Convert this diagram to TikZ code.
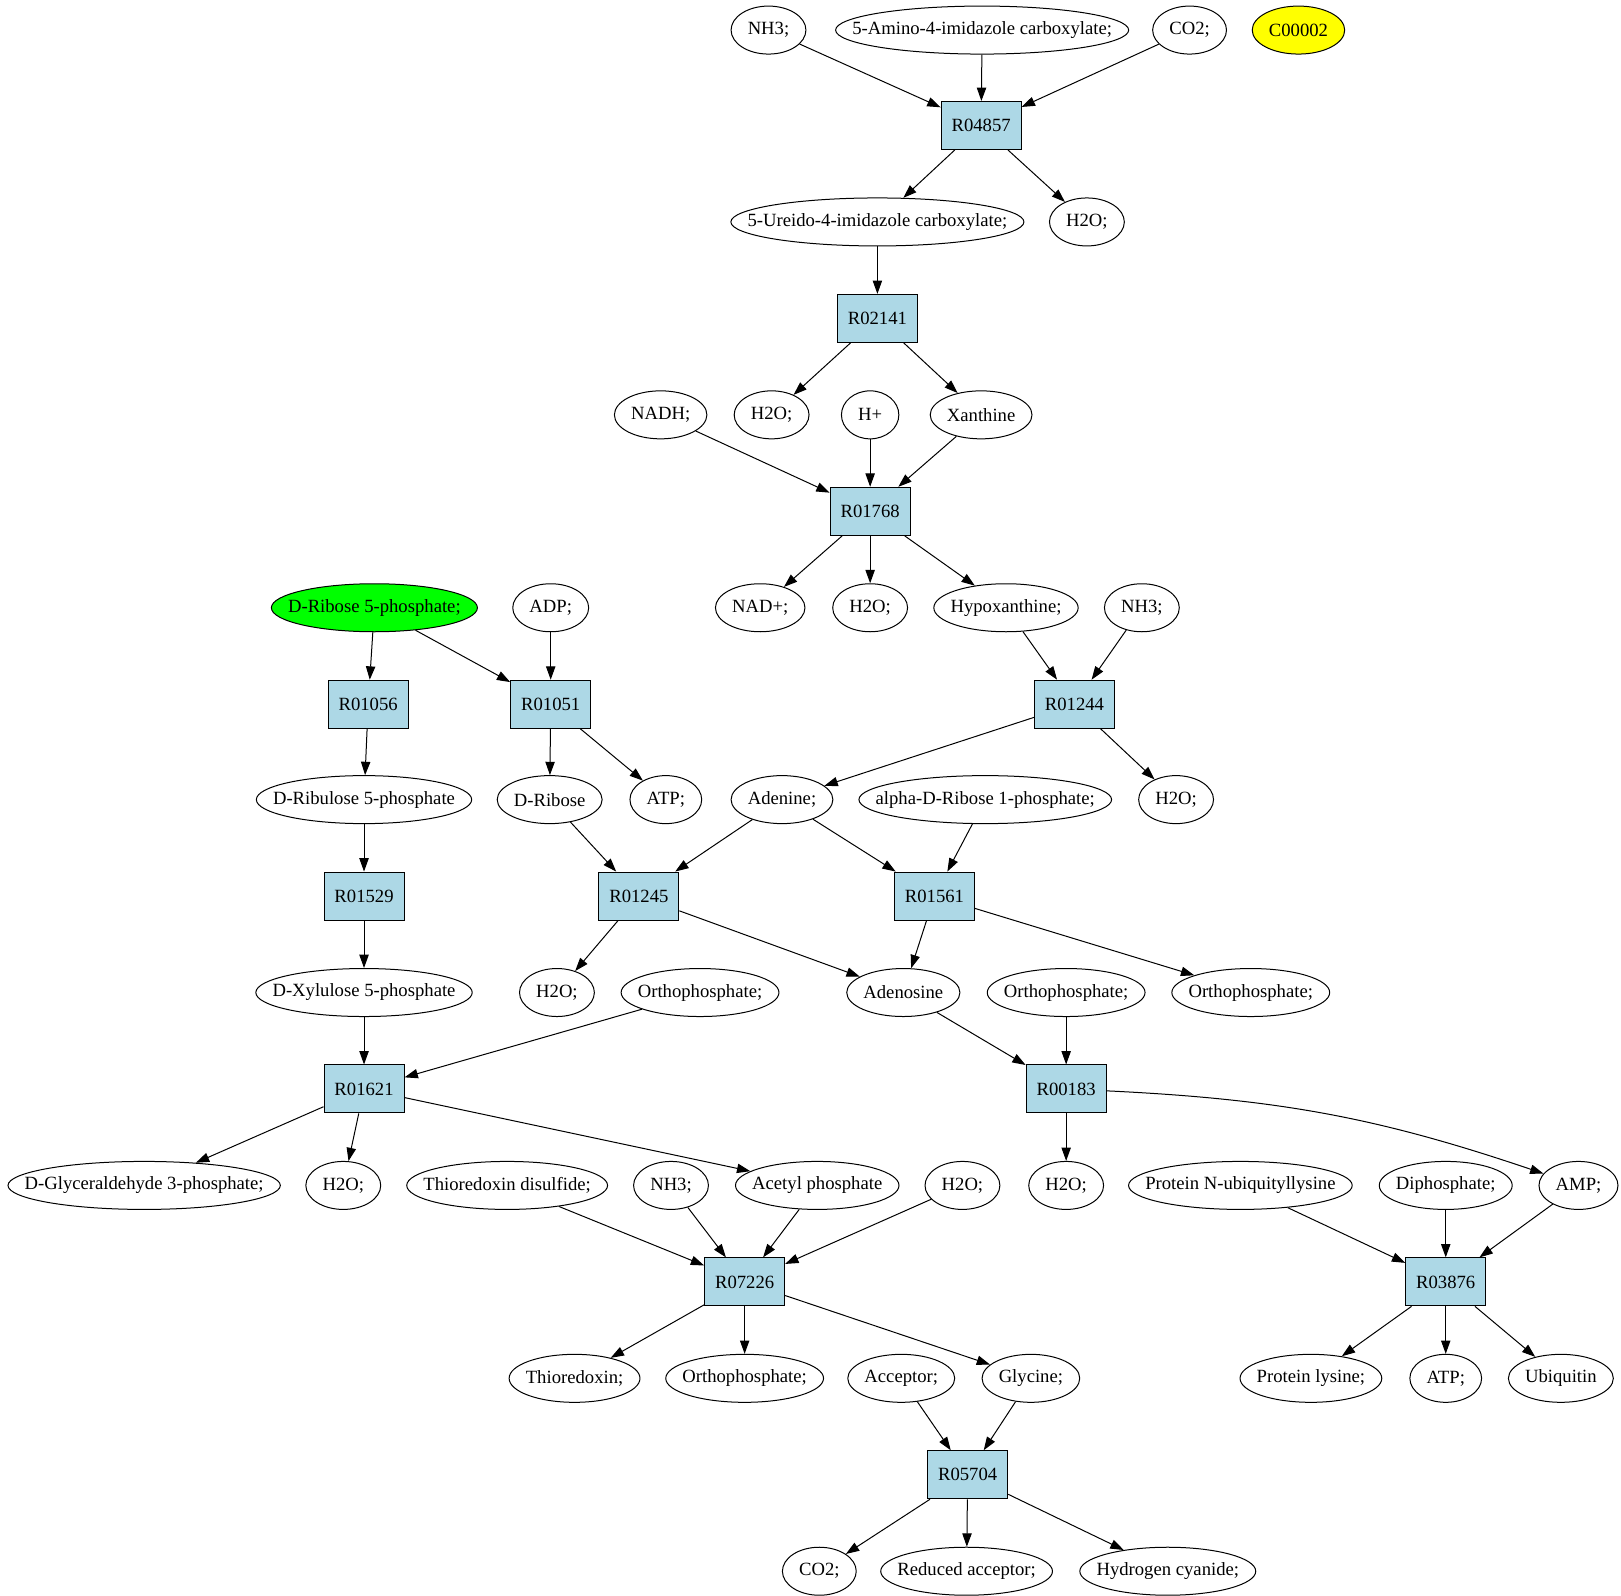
\documentclass[tikz,border=0pt]{standalone}
\usepackage{fontspec}
\setmainfont{Liberation Serif}
\usetikzlibrary{shapes.geometric,arrows.meta}
\definecolor{reaction}{RGB}{173,216,230}
\definecolor{source}{RGB}{0,255,0}
\definecolor{target}{RGB}{255,255,0}
\newcommand{\fitbox}[1]{\makebox[\dimexpr0.7071\width+17.7pt\relax]{#1}}
\tikzstyle{cpd}=[ellipse, draw, line width=.75pt, minimum height=36pt, inner xsep=0pt, inner ysep=0pt, font=\fontsize{14}{17}\selectfont]
\tikzstyle{rxn}=[rectangle, draw, line width=.75pt, fill=reaction, minimum width=60pt, minimum height=36pt, font=\fontsize{14}{17}\selectfont]
\tikzstyle{edge}=[-{Triangle[length=10pt,width=7pt]}, line width=.75pt]

\begin{document}
\begin{tikzpicture}[x=0.7778pt, y=-0.7778pt]
  \useasboundingbox (0,0) rectangle (1563,1538);
  \draw (741,29) node[cpd] (nh3a) {\fitbox{NH3;}};
  \draw (947,29) node[cpd] (aica) {\fitbox{5-Amino-4-imidazole carboxylate;}};
  \draw (1147,29) node[cpd] (co2a) {\fitbox{CO2;}};
  \draw (1252,29) node[cpd,fill=target] (cmark) {\fitbox{C00002}};

  \draw (946,121) node[rxn] (R04857) {R04857};
  \draw (846,214) node[cpd] (uica) {\fitbox{5-Ureido-4-imidazole carboxylate;}};
  \draw (1048,214) node[cpd] (h2oa) {\fitbox{H2O;}};

  \draw (846,307) node[rxn] (R02141) {R02141};
  \draw (637,400) node[cpd] (nadh) {\fitbox{NADH;}};
  \draw (744,400) node[cpd] (h2ob) {\fitbox{H2O;}};
  \draw (839,400) node[cpd] (hplus) {\fitbox{H+}};
  \draw (946,400) node[cpd] (xan) {\fitbox{Xanthine}};

  \draw (839,493) node[rxn] (R01768) {R01768};
  \draw (361,586) node[cpd,fill=source] (r5p) {\fitbox{D-Ribose 5-phosphate;}};
  \draw (531,586) node[cpd] (adp) {\fitbox{ADP;}};
  \draw (733,586) node[cpd] (nad) {\fitbox{NAD+;}};
  \draw (839,586) node[cpd] (h2oc) {\fitbox{H2O;}};
  \draw (970,586) node[cpd] (hyp) {\fitbox{Hypoxanthine;}};
  \draw (1101,586) node[cpd] (nh3b) {\fitbox{NH3;}};

  \draw (355,679) node[rxn] (R01056) {R01056};
  \draw (531,679) node[rxn] (R01051) {R01051};
  \draw (1036,679) node[rxn] (R01244) {R01244};

  \draw (351,771) node[cpd] (ru5p) {\fitbox{D-Ribulose 5-phosphate}};
  \draw (530,771) node[cpd] (rib) {\fitbox{D-Ribose}};
  \draw (642,771) node[cpd] (atpa) {\fitbox{ATP;}};
  \draw (754,771) node[cpd] (ade) {\fitbox{Adenine;}};
  \draw (950,771) node[cpd] (a1p) {\fitbox{alpha-D-Ribose 1-phosphate;}};
  \draw (1134,771) node[cpd] (h2od) {\fitbox{H2O;}};

  \draw (351,864) node[rxn] (R01529) {R01529};
  \draw (616,864) node[rxn] (R01245) {R01245};
  \draw (901,864) node[rxn] (R01561) {R01561};

  \draw (351,957) node[cpd] (xu5p) {\fitbox{D-Xylulose 5-phosphate}};
  \draw (537,957) node[cpd] (h2oe) {\fitbox{H2O;}};
  \draw (675,957) node[cpd] (pia) {\fitbox{Orthophosphate;}};
  \draw (871,957) node[cpd] (ado) {\fitbox{Adenosine}};
  \draw (1028,957) node[cpd] (pib) {\fitbox{Orthophosphate;}};
  \draw (1206,957) node[cpd] (pic) {\fitbox{Orthophosphate;}};

  \draw (351,1050) node[rxn] (R01621) {R01621};
  \draw (1028,1050) node[rxn] (R00183) {R00183};

  \draw (139,1143) node[cpd] (gap) {\fitbox{D-Glyceraldehyde 3-phosphate;}};
  \draw (331,1143) node[cpd] (h2of) {\fitbox{H2O;}};
  \draw (489,1143) node[cpd] (trxd) {\fitbox{Thioredoxin disulfide;}};
  \draw (647,1143) node[cpd] (nh3c) {\fitbox{NH3;}};
  \draw (788,1143) node[cpd] (acp) {\fitbox{Acetyl phosphate}};
  \draw (928,1143) node[cpd] (h2og) {\fitbox{H2O;}};
  \draw (1028,1143) node[cpd] (h2oh) {\fitbox{H2O;}};
  \draw (1196,1143) node[cpd] (pnu) {\fitbox{Protein N-ubiquityllysine}};
  \draw (1394,1143) node[cpd] (ppi) {\fitbox{Diphosphate;}};
  \draw (1522,1143) node[cpd] (amp) {\fitbox{AMP;}};

  \draw (718,1236) node[rxn] (R07226) {R07226};
  \draw (1394,1236) node[rxn] (R03876) {R03876};

  \draw (554,1329) node[cpd] (trx) {\fitbox{Thioredoxin;}};
  \draw (718,1329) node[cpd] (pid) {\fitbox{Orthophosphate;}};
  \draw (869,1329) node[cpd] (acc) {\fitbox{Acceptor;}};
  \draw (994,1329) node[cpd] (gly) {\fitbox{Glycine;}};
  \draw (1264,1329) node[cpd] (plys) {\fitbox{Protein lysine;}};
  \draw (1394,1329) node[cpd] (atpb) {\fitbox{ATP;}};
  \draw (1505,1329) node[cpd] (ubq) {\fitbox{Ubiquitin}};

  \draw (933,1422) node[rxn] (R05704) {R05704};
  \draw (790,1515) node[cpd] (co2b) {\fitbox{CO2;}};
  \draw (932,1515) node[cpd] (racc) {\fitbox{Reduced acceptor;}};
  \draw (1126,1515) node[cpd] (hcn) {\fitbox{Hydrogen cyanide;}};

  %% substrates and products
  \draw[edge] (nh3a) -- (R04857);
  \draw[edge] (aica) -- (R04857);
  \draw[edge] (co2a) -- (R04857);
  \draw[edge] (R04857) -- (uica);
  \draw[edge] (R04857) -- (h2oa);

  \draw[edge] (uica) -- (R02141);
  \draw[edge] (R02141) -- (h2ob);
  \draw[edge] (R02141) -- (xan);

  \draw[edge] (nadh) -- (R01768);
  \draw[edge] (hplus) -- (R01768);
  \draw[edge] (xan) -- (R01768);
  \draw[edge] (R01768) -- (nad);
  \draw[edge] (R01768) -- (h2oc);
  \draw[edge] (R01768) -- (hyp);

  \draw[edge] (hyp) -- (R01244);
  \draw[edge] (nh3b) -- (R01244);
  \draw[edge] (R01244) -- (ade);
  \draw[edge] (R01244) -- (h2od);

  \draw[edge] (r5p) -- (R01056);
  \draw[edge] (r5p) -- (R01051);
  \draw[edge] (adp) -- (R01051);
  \draw[edge] (R01056) -- (ru5p);
  \draw[edge] (R01051) -- (rib);
  \draw[edge] (R01051) -- (atpa);

  \draw[edge] (ru5p) -- (R01529);
  \draw[edge] (R01529) -- (xu5p);

  \draw[edge] (rib) -- (R01245);
  \draw[edge] (ade) -- (R01245);
  \draw[edge] (ade) -- (R01561);
  \draw[edge] (a1p) -- (R01561);
  \draw[edge] (R01245) -- (h2oe);
  \draw[edge] (R01245) -- (ado);
  \draw[edge] (R01561) -- (ado);
  \draw[edge] (R01561) -- (pic);

  \draw[edge] (xu5p) -- (R01621);
  \draw[edge] (pia) -- (R01621);
  \draw[edge] (R01621) -- (gap);
  \draw[edge] (R01621) -- (h2of);
  \draw[edge] (R01621) -- (acp);

  \draw[edge] (ado) -- (R00183);
  \draw[edge] (pib) -- (R00183);
  \draw[edge] (R00183) -- (h2oh);
  \draw[edge] (R00183) to[bend left=8] (amp);

  \draw[edge] (trxd) -- (R07226);
  \draw[edge] (nh3c) -- (R07226);
  \draw[edge] (acp) -- (R07226);
  \draw[edge] (h2og) -- (R07226);
  \draw[edge] (R07226) -- (trx);
  \draw[edge] (R07226) -- (pid);
  \draw[edge] (R07226) -- (gly);

  \draw[edge] (pnu) -- (R03876);
  \draw[edge] (ppi) -- (R03876);
  \draw[edge] (amp) -- (R03876);
  \draw[edge] (R03876) -- (plys);
  \draw[edge] (R03876) -- (atpb);
  \draw[edge] (R03876) -- (ubq);

  \draw[edge] (acc) -- (R05704);
  \draw[edge] (gly) -- (R05704);
  \draw[edge] (R05704) -- (co2b);
  \draw[edge] (R05704) -- (racc);
  \draw[edge] (R05704) -- (hcn);
\end{tikzpicture}
\end{document}
